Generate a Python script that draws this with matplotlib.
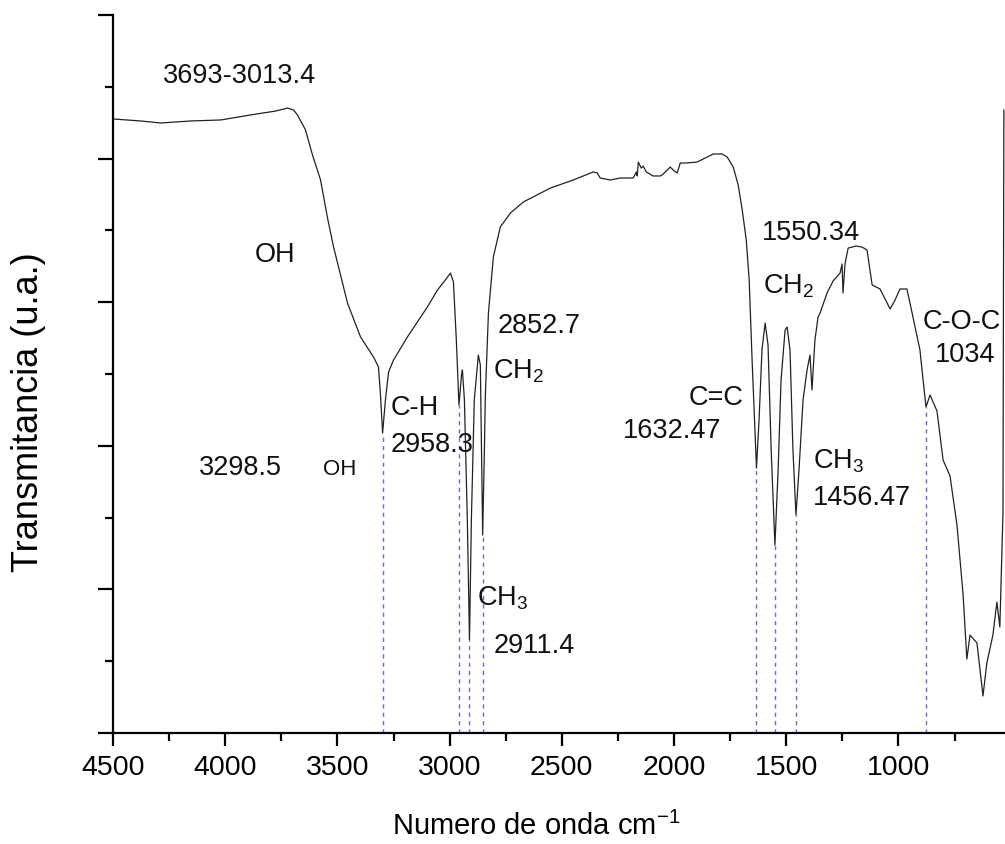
import matplotlib
matplotlib.use("Agg")
import matplotlib.pyplot as plt
from matplotlib.ticker import MultipleLocator, NullFormatter

plt.rcParams['font.family'] = ['Liberation Sans', 'DejaVu Sans']
plt.rcParams['mathtext.fontset'] = 'custom'
plt.rcParams['mathtext.rm'] = 'Liberation Sans'
plt.rcParams['mathtext.it'] = 'Liberation Sans'
plt.rcParams['mathtext.default'] = 'regular'

# Spectrum (wavenumber cm-1, transmittance a.u.)
wavenumber = [4500, 4377, 4288, 4154, 4020, 3887, 3776, 3722, 3695, 3678, 3642, 3611,
              3575, 3544, 3517, 3455, 3397, 3339, 3317, 3308, 3298.5, 3286, 3272, 3250,
              3188, 3099, 3054, 3019, 2996, 2983, 2970, 2958.3, 2947, 2943, 2934, 2921,
              2911.4, 2903, 2890, 2872, 2863, 2852.7, 2845, 2841, 2827, 2805, 2774, 2729,
              2671, 2551, 2449, 2360, 2342, 2329, 2284, 2240, 2182, 2168, 2164, 2159,
              2146, 2137, 2124, 2093, 2061, 2048, 2030, 2017, 1999, 1986, 1972, 1950,
              1897, 1825, 1785, 1763, 1736, 1714, 1696, 1678, 1665, 1652, 1632.47, 1621,
              1608, 1594, 1581, 1567, 1550.34, 1536, 1523, 1505, 1496, 1483, 1470,
              1456.47, 1443, 1425, 1407, 1394, 1385, 1372, 1358, 1349, 1318, 1291, 1260,
              1251, 1247, 1238, 1224, 1189, 1162, 1140, 1117, 1082, 1037, 1015, 993,
              962, 939, 904, 891, 877, 859, 828, 801, 770, 739, 712, 695, 681, 650,
              623, 606, 579, 561, 548, 534, 530]
transmittance = [4.276, 4.262, 4.248, 4.262, 4.269, 4.304, 4.331, 4.352, 4.338, 4.304,
                 4.199, 4.025, 3.851, 3.586, 3.384, 2.994, 2.758, 2.618, 2.549, 2.354,
                 2.089, 2.319, 2.514, 2.597, 2.758, 2.967, 3.085, 3.155, 3.203, 3.141,
                 2.737, 2.284, 2.493, 2.528, 2.319, 1.483, 0.648, 1.483, 2.319, 2.632,
                 2.563, 1.379, 1.971, 2.340, 2.925, 3.315, 3.524, 3.621, 3.698, 3.795,
                 3.851, 3.907, 3.900, 3.865, 3.851, 3.865, 3.865, 3.907, 3.879, 3.976,
                 3.934, 3.948, 3.907, 3.879, 3.879, 3.893, 3.921, 3.941, 3.914, 3.900,
                 3.969, 3.969, 3.976, 4.032, 4.032, 4.011, 3.941, 3.816, 3.642, 3.433,
                 3.155, 2.597, 1.845, 2.180, 2.667, 2.855, 2.702, 1.971, 1.309, 1.831,
                 2.458, 2.806, 2.827, 2.667, 1.971, 1.518, 1.831, 2.319, 2.528, 2.632,
                 2.389, 2.737, 2.897, 2.925, 3.064, 3.148, 3.203, 3.266, 3.064, 3.266,
                 3.377, 3.391, 3.384, 3.364, 3.120, 3.092, 2.953, 3.015, 3.092, 3.092,
                 2.925, 2.667, 2.472, 2.270, 2.354, 2.242, 1.901, 1.790, 1.448, 0.968,
                 0.515, 0.682, 0.627, 0.258, 0.487, 0.682, 0.912, 0.738, 1.532, 4.338]

# Marked bands (dashed guides) : position and depth
band_positions = [3298.5, 2958.3, 2911.4, 2852.7, 1632.47, 1550.34, 1456.47, 877]
band_depths = [2.089, 2.284, 0.648, 1.379, 1.845, 1.309, 1.518, 2.270]

x_ticks = [4500, 4000, 3500, 3000, 2500, 2000, 1500, 1000]

# Annotations: (text, left wavenumber, baseline transmittance, fontsize)
annotations = [
    ("3693-3013.4", 4279, 4.526, 19.5),
    ("OH", 3869, 3.280, 19.5),
    ("C-H", 3264, 2.214, 19.5),
    ("2958.3", 3264, 1.957, 19.5),
    ("3298.5", 4118, 1.797, 19.5),
    ("OH", 3566, 1.797, 16),
    ("2852.7", 2787, 2.786, 19.5),
    ("$CH_2$", 2805, 2.472, 19.5),
    ("$CH_3$", 2876, 0.891, 19.5),
    ("2911.4", 2805, 0.557, 19.5),
    ("1550.34", 1607, 3.433, 19.5),
    ("$CH_2$", 1603, 3.064, 19.5),
    ("C=C", 1937, 2.284, 19.5),
    ("1632.47", 2226, 2.054, 19.5),
    ("$CH_3$", 1380, 1.845, 19.5),
    ("1456.47", 1380, 1.588, 19.5),
    ("C-O-C", 890, 2.813, 19.5),
    ("1034", 837, 2.584, 19.5),
]

fig = plt.figure(figsize=(10.05, 8.44), dpi=100)
ax = fig.add_axes([113 / 1005, 111 / 844, 892 / 1005, 718 / 844])

ax.vlines(band_positions, 0, band_depths, colors='#6a6ad8', linestyles=(0, (3, 3)),
          linewidth=1.0, zorder=1)
ax.plot(wavenumber, transmittance, color='#222222', linewidth=0.9, zorder=2)

for txt, xw, yt, fs in annotations:
    ax.text(xw, yt, txt, fontsize=fs, ha='left', va='baseline', color='#111111')

ax.set_xlim(4500, 525)
ax.set_ylim(0, 5)
ax.set_xticks(x_ticks)
ax.xaxis.set_minor_locator(MultipleLocator(250))
ax.yaxis.set_major_locator(MultipleLocator(1))
ax.yaxis.set_minor_locator(MultipleLocator(0.5))
ax.yaxis.set_major_formatter(NullFormatter())

for side in ('top', 'right'):
    ax.spines[side].set_visible(False)
for side in ('left', 'bottom'):
    ax.spines[side].set_linewidth(1.6)

ax.tick_params(axis='x', which='major', direction='out', length=9, width=1.6,
               labelsize=20.5, pad=6.5)
ax.tick_params(axis='y', which='major', direction='out', length=11, width=1.6)
ax.tick_params(which='minor', direction='out', length=5.5, width=1.6)

fig.text(392 / 1005, 9 / 844, "Numero de onda cm$^{-1}$", ha='left', va='baseline',
         fontsize=21)
fig.text(28.4 / 1005, (844 - 412.5) / 844, "Transmitancia (u.a.)", ha='center',
         va='center', rotation=90, fontsize=26)

fig.savefig("out.png", dpi=100)
